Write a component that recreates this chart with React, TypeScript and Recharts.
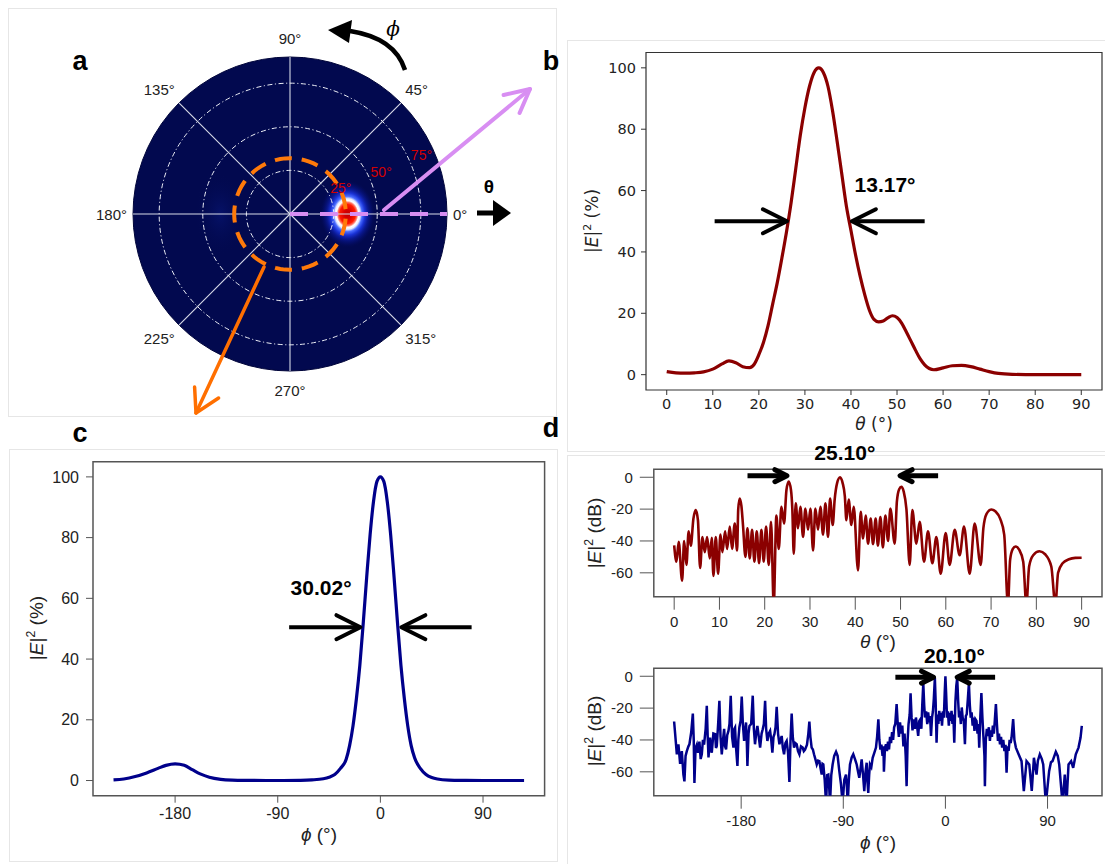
import React from 'react';
import {
  LineChart, Line, XAxis, YAxis, ReferenceArea, ReferenceLine, ReferenceDot,
  RadarChart, Radar, PolarGrid, PolarAngleAxis, PolarRadiusAxis,
  ScatterChart, Scatter,
} from 'recharts';

// ---------- panel a: far-field map (theta radial, phi angular) ----------
const PHI_STEPS = [
  0, 5, 10, 15, 20, 25, 30, 35, 40, 45, 50, 55, 60, 65, 70, 75, 80, 85, 90, 95, 100, 105, 110, 115,
  120, 125, 130, 135, 140, 145, 150, 155, 160, 165, 170, 175, 180, 185, 190, 195, 200, 205, 210, 215,
  220, 225, 230, 235, 240, 245, 250, 255, 260, 265, 270, 275, 280, 285, 290, 295, 300, 305, 310, 315,
  320, 325, 330, 335, 340, 345, 350, 355,
];
const RIM_THETA = 90;
const RING_THETA = 32;
const GRID_THETA = [25, 50, 75];
const SPOKES = [0, 45, 90, 135, 180, 225, 270, 315];
const SPOT_THETA = [33, 40];
const SPOT_PHI = [0, 180];
const SPOT_LEVEL = [100, 6];

// ---------- panel b: theta cut, linear ----------
const B_THETA = [0, 2, 4, 6, 8, 10, 12, 13.5, 15, 16.5, 18, 19, 20,
  21, 22, 23, 24, 25, 26, 27, 28, 29, 30, 31, 32, 33, 34, 35, 36, 37, 38, 39, 40,
  41, 42, 43, 44, 45, 46, 47, 48, 49, 50, 51, 52, 53, 54, 55, 56, 57, 58,
  60, 62, 64, 66, 68, 70, 72, 75, 80, 85, 90];
const B_E2 = [1.0, 0.6, 0.5, 0.6, 0.9, 1.8, 3.5, 4.5, 3.9, 2.6, 2.3, 3.4, 6.5,
  10.5, 16, 23, 30, 38, 46.5, 56, 67, 78, 87, 94, 98.5, 100, 98.5, 94, 86, 76, 65.5, 55, 47,
  39, 32, 26, 21, 18, 17.2, 17.5, 18.5, 19.2, 18.6, 16.8, 14, 11, 8, 5.2, 3.2, 2, 1.6,
  2.2, 2.9, 3, 2.6, 1.8, 1, 0.4, 0.1, 0, 0, 0];
const B_XTICKS = [0, 10, 20, 30, 40, 50, 60, 70, 80, 90];
const B_YTICKS = [0, 20, 40, 60, 80, 100];

// ---------- panel c: phi cut, linear ----------
const C_PHI = [-234, -225, -215, -205, -195, -188, -180, -172, -165, -158, -150, -140, -130,
  -115, -100, -85, -70, -60, -50, -45, -40, -35, -30,
  -27, -24, -21, -18, -15, -12, -9, -6, -3, 0,
  3, 6, 9, 12, 15, 18, 21, 24, 27, 30,
  35, 40, 45, 50, 60, 75, 90, 105, 126];
const C_E2 = [0.2, 0.5, 1.3, 2.5, 4, 5, 5.5, 5, 3.6, 2.2, 1.1, 0.4, 0.15,
  0.05, 0, 0, 0.05, 0.2, 0.6, 1.1, 2, 4, 7,
  11.5, 18, 27, 38, 52, 67, 81, 92, 98.5, 100,
  98.5, 92, 81, 67, 52, 38, 27, 18, 11.5, 7.5,
  4, 2, 1, 0.5, 0.15, 0.05, 0, 0, 0];
const C_XTICKS = [-180, -90, 0, 90];
const C_YTICKS = [0, 20, 40, 60, 80, 100];

// ---------- panel d: cuts in dB ----------
const D_THETA_CUT: [number, number][] = [
  [0, -42.7], [0.5, -53], [1.0, -40.6], [1.75, -65], [2.2, -40], [2.7, -55], [3.2, -34], [3.67, -43],
  [4.25, -26], [4.77, -20.6], [5.25, -27], [5.73, -57], [6.24, -37.5], [6.76, -47], [7.27, -37.5],
  [7.86, -51], [8.3, -38], [8.67, -62], [9.19, -37.5], [9.7, -60.6], [10.22, -36], [10.66, -47],
  [11.25, -34], [11.69, -45], [12.28, -31], [12.79, -45], [13.38, -29], [13.9, -46], [14.15, -20],
  [14.48, -13.3], [14.85, -18], [15.2, -30], [15.74, -50], [16.18, -32], [16.69, -51], [17.21, -33],
  [17.72, -53], [18.24, -34], [18.75, -54], [19.27, -33], [19.78, -53], [20.3, -31], [20.89, -55],
  [21.4, -28], [21.99, -80], [22.58, -24], [23.1, -45], [23.69, -18.5], [24.27, -29], [24.8, -8],
  [25.3, -2.7], [25.8, -8], [26.1, -20], [26.41, -48], [26.85, -16.4], [27.36, -32], [27.88, -18.5],
  [28.47, -37.5], [28.98, -19.6], [29.57, -33], [30.09, -19.6], [30.68, -46], [31.19, -19.6],
  [31.78, -33], [32.3, -18.5], [32.88, -36], [33.4, -16.4], [33.99, -37.5], [34.43, -13.3],
  [35.02, -30], [35.45, -14], [36.0, -3.5], [36.64, 0], [37.2, -3.5], [37.7, -12], [38.04, -27],
  [38.55, -14], [39.14, -30], [39.66, -18.5], [40.61, -58.5], [41.2, -21.7], [41.72, -38.5],
  [42.3, -24], [42.82, -41.7], [43.41, -26], [43.92, -42], [44.5, -26], [45.0, -43], [45.55, -25],
  [46.1, -44], [46.65, -24], [47.24, -40], [47.75, -19.6], [48.71, -41.7], [49.2, -15], [49.7, -7.5],
  [50.18, -6], [50.7, -9], [51.3, -20], [52.02, -55], [52.61, -20.6], [53.49, -41.7], [54.23, -28],
  [55.19, -53], [56.07, -34], [57.03, -54], [57.91, -37.5], [58.87, -60.6], [59.97, -35],
  [60.85, -55], [61.96, -33], [63.06, -49], [64.02, -31], [65.27, -60.6], [66.37, -29], [67.7, -55],
  [68.3, -32], [69.0, -23], [70.05, -20.2], [71.0, -21.5], [72.0, -26], [72.9, -36], [73.73, -80],
  [74.2, -52], [74.8, -45], [75.4, -43.5], [76.2, -45.5], [77.1, -53], [77.8, -80], [78.4, -56],
  [79.3, -49], [80.7, -46.5], [82.0, -48.5], [83.3, -56], [84.2, -80], [84.8, -60], [85.8, -54],
  [87.2, -51.5], [88.6, -50.6], [90, -50.5],
];

const D_PHI_CUT: [number, number][] = [
  [-239.1, -28.4], [-238.2, -36], [-236.7, -49], [-235.3, -42.7], [-233.8, -55], [-232.3, -47],
  [-230.9, -61.7], [-230.0, -66], [-229, -50], [-227.9, -47], [-226.5, -44], [-225.6, -42.7],
  [-224, -35], [-222.6, -23.4], [-221.8, -40], [-221.2, -67], [-220.2, -45], [-219.1, -43],
  [-218, -48], [-216.8, -41], [-215.7, -52], [-214.7, -49], [-213.7, -40], [-212.7, -43],
  [-211.3, -33], [-210.3, -18.5], [-209.5, -38], [-208.8, -51], [-207.4, -38.5], [-206.5, -46],
  [-205.9, -48], [-204.5, -36], [-203.0, -36.4], [-202.2, -45], [-201.5, -43.8], [-200.3, -30],
  [-199.2, -15.4], [-198.2, -38], [-197.1, -49], [-196, -40], [-195.0, -33], [-194.2, -44],
  [-193.3, -45.9], [-192.3, -37], [-191.2, -34.3], [-190.3, -30], [-189.2, -12.2], [-188, -38],
  [-186.8, -44.8], [-186, -33], [-185.4, -32.2], [-184.5, -45], [-183.3, -56.3], [-182.5, -40],
  [-181.6, -32.2], [-180.5, -28], [-179.5, -12.8], [-178.5, -30], [-177.4, -40.6], [-176.5, -34],
  [-175.7, -29], [-175, -42], [-174.5, -56.3], [-173.5, -36], [-172.7, -31.2], [-171.2, -30],
  [-169.8, -12.2], [-168.8, -33], [-167.8, -42.7], [-166.8, -36], [-165.7, -31.2], [-164.5, -38],
  [-163.3, -44.8], [-162, -36], [-161.0, -33.3], [-160, -30], [-158.9, -15.4], [-158, -33],
  [-156.9, -40.6], [-155.7, -36], [-154.5, -34.3], [-153.5, -40], [-152.5, -48], [-151.5, -38],
  [-150.7, -36.4], [-149.7, -32], [-148.7, -19.2], [-147.5, -36], [-146.3, -42.7], [-145.3, -40],
  [-144.3, -37.5], [-143.3, -45], [-142.2, -49], [-141, -42], [-139.9, -40.6], [-138.7, -48],
  [-137.5, -66.3], [-136.5, -40], [-135.5, -23.4], [-134.5, -38], [-133.4, -44.8], [-132.2, -42],
  [-131.1, -42.7], [-129.9, -47], [-128.7, -49], [-127.3, -44], [-125.8, -44.8], [-124.8, -47],
  [-123.7, -46], [-122, -43], [-120.8, -36], [-119.9, -28.4], [-119, -38], [-117.9, -44.8],
  [-116.8, -46], [-115.8, -49], [-114.6, -52], [-113.4, -55.4], [-112.2, -53], [-111.1, -53.3],
  [-110, -58], [-109.0, -61.7], [-108.3, -55], [-107.6, -55.4], [-106.4, -65], [-105.2, -80],
  [-104.2, -62], [-103.2, -61.7], [-102.4, -70], [-101.7, -80], [-100.6, -62], [-99.4, -55.4],
  [-98, -50], [-96.4, -47.4], [-95, -50], [-93.5, -59.6], [-92, -68], [-90.6, -80], [-89.1, -65],
  [-87.6, -61.7], [-86.8, -70], [-86.1, -80], [-85.1, -65], [-84.1, -55.4], [-82.6, -51],
  [-81.2, -49], [-79.7, -52], [-78.2, -55.4], [-77, -60], [-75.9, -63.8], [-74.8, -58],
  [-73.8, -52.2], [-72.6, -62], [-71.5, -72.2], [-70.4, -60], [-69.4, -54.3], [-68.7, -66],
  [-68.0, -73.3], [-67.2, -62], [-66.5, -55.4], [-65.3, -57], [-64.1, -51.2], [-62.6, -48],
  [-61.2, -44.8], [-60.2, -38], [-59.1, -27],
  [-58.2, -40], [-57.3, -46], [-56.4, -43], [-55.4, -50], [-54.6, -44], [-54.2, -60], [-53.3, -45],
  [-52.4, -42.7], [-51.5, -47], [-50.6, -41], [-49.7, -46], [-48.8, -38], [-47.9, -42], [-47, -35],
  [-46.1, -40], [-45.2, -32], [-44.2, -30], [-43, -17.5],
  [-42, -30], [-41, -38], [-40, -29], [-39, -36], [-38, -31], [-37, -44], [-36, -36], [-35, -50],
  [-34.2, -69], [-33.3, -40], [-32.5, -30], [-31.5, -24], [-30.7, -10.7],
  [-29.8, -26], [-29, -34], [-28, -27], [-27, -33], [-26, -25.9], [-25, -31], [-24, -37.5],
  [-23, -28], [-22, -26.9], [-21.2, -33], [-20.4, -18], [-19.5, -4.4],
  [-18.7, -18], [-18, -25.9], [-17, -22], [-16, -30], [-15.2, -22.7], [-14.3, -29], [-13.5, -25],
  [-12.7, -37.5], [-11.8, -26], [-11, -22], [-10.2, -14], [-9.3, -1],
  [-8.6, -16], [-7.8, -41.7], [-7, -24], [-6.2, -30], [-5.4, -21.7], [-4.6, -28], [-3.8, -23],
  [-3, -31], [-2.2, -22], [-1.4, -26], [-0.6, -10], [0, 0],
  [0.6, -10], [1.4, -26], [2.2, -22], [3, -31], [3.8, -23], [4.6, -28], [5.4, -21.7], [6.2, -30],
  [7, -24], [7.8, -41.7], [8.8, -16], [9.6, -6], [10.4, -1],
  [11.2, -15], [12, -25.9], [12.8, -22], [13.6, -30], [14.4, -19.6], [15.2, -26], [16.2, -28],
  [17.2, -42.7], [18, -25], [18.8, -23.8], [19.8, -14], [20.7, -4.4],
  [21.5, -18], [22.3, -26], [23.1, -22.7], [24, -31], [24.8, -26], [25.6, -34.3], [26.5, -27],
  [27.4, -28], [28.3, -36], [29.1, -30], [29.8, -44.8], [30.8, -25], [31.7, -10.5],
  [32.6, -26], [33.5, -38], [34.4, -50], [34.8, -69], [35.6, -40], [36.5, -33], [37.4, -37.5],
  [38.3, -32], [39.2, -40.6], [40.1, -34], [41, -38], [41.8, -31], [42.7, -36], [43.6, -27],
  [44.5, -17.5],
  [45.4, -30], [46.3, -40.6], [47.2, -36], [48.1, -42.7], [49, -38], [50, -44.8], [51, -40],
  [52, -47], [53, -43], [53.9, -60.6], [54.8, -44], [55.7, -46.9], [56.6, -40], [57.5, -42],
  [58.3, -38.5], [59.7, -26.9],
  [60.8, -40], [62.1, -44.8], [64.5, -49], [67.1, -53.3], [69.1, -72.2], [71.5, -53.3],
  [73.9, -55.4], [76.1, -72], [78.0, -51.2], [80.3, -61.7], [81.5, -53], [83.2, -49], [85, -52],
  [86.2, -55.4], [88.5, -80], [91.4, -59.6], [93, -54], [94.4, -53.3], [97.3, -47.4], [99, -50],
  [100.3, -55.4], [103.2, -80], [105.2, -61.7], [106.7, -80], [108.5, -55.4], [110.8, -53.3],
  [112.6, -57.5], [114.9, -49], [117.3, -44.8], [119.1, -38.5], [120.2, -31.2],
];
const D_THETA_TICKS = [0, 10, 20, 30, 40, 50, 60, 70, 80, 90];
const D_PHI_TICKS = [-180, -90, 0, 90];
const D_YTICKS = [-60, -40, -20, 0];

const SANS = 'Liberation Sans, Arial, sans-serif';
const DEJAVU = 'DejaVu Sans, sans-serif';
const NAVY = '#02094f';
const DARKRED = '#8b0000';
const DARKBLUE = '#00008b';
const POLAR_SIZE = 420;
const POLAR_R = 157;

const arrowShape = (w: number, len: number, half: number) => (p: any) => {
  const { x1, y1, x2, y2 } = p;
  if (x1 == null) return <g />;
  const a = Math.atan2(y2 - y1, x2 - x1);
  const c = Math.cos(a), s = Math.sin(a);
  const bx = x2 - len * c, by = y2 - len * s;
  return (
    <g>
      <line x1={x1} y1={y1} x2={x2 - c * w * 0.6} y2={y2 - s * w * 0.6} stroke="#000" strokeWidth={w} />
      <polyline
        points={`${bx - half * s},${by + half * c} ${x2},${y2} ${bx + half * s},${by - half * c}`}
        fill="none" stroke="#000" strokeWidth={w} strokeLinejoin="round" strokeLinecap="round"
      />
    </g>
  );
};

const boldText = (label: string) => (p: any) => (
  <text x={p.cx} y={p.cy} textAnchor="middle" dominantBaseline="central"
    fontFamily={SANS} fontWeight="bold" fontSize={21} fill="#000">{label}</text>
);

function YLabel({ x, y, size, family, unit }: any) {
  return (
    <text transform={`translate(${x},${y}) rotate(-90)`} textAnchor="middle" fontFamily={family}
      fontSize={size} fill="#222">
      |<tspan fontStyle="italic">E</tspan>|<tspan dy={-size * 0.4} fontSize={size * 0.65}>2</tspan>
      <tspan dy={size * 0.4}> ({unit})</tspan>
    </text>
  );
}

function XLabel({ x, y, size, family, sym }: any) {
  return (
    <text x={x} y={y} textAnchor="middle" fontFamily={family} fontSize={size} fill="#222">
      <tspan fontStyle="italic">{sym}</tspan> (°)
    </text>
  );
}

// labels of the phi directions, placed just outside the rim
const AngleTick = (p: any) => {
  const v = Number(p.payload?.value);
  if (v % 45 !== 0) return <g />;
  const a = (v * Math.PI) / 180;
  const c = Math.cos(a), s = Math.sin(a);
  const anchor = c > 0.01 ? 'start' : c < -0.01 ? 'end' : 'middle';
  const mid = POLAR_SIZE / 2;
  return (
    <text x={mid + c * (POLAR_R + 6)} y={mid - s * (POLAR_R + 19)} textAnchor={anchor}
      dominantBaseline="central" fontSize={15} fontFamily={SANS} fill="#222">{v}°</text>
  );
};

const RadiusTick = (p: any) => (
  <text x={p.x} y={p.y - 9} textAnchor="start" dominantBaseline="central"
    fontSize={14} fontFamily={SANS} fill="#d40000">{p.payload?.value}°</text>
);

const SpotShape = (p: any) => {
  const { cx, cy, payload } = p;
  if (cx == null) return <g />;
  const id = `spot-${payload.k}`;
  if (payload.level > 50) {
    return (
      <g>
        <defs>
          <radialGradient id={id}>
            <stop offset="0%" stopColor="#c00000" />
            <stop offset="12%" stopColor="#d80000" />
            <stop offset="28%" stopColor="#ff1a00" />
            <stop offset="34%" stopColor="#ff7060" />
            <stop offset="39%" stopColor="#ffffff" />
            <stop offset="45%" stopColor="#e6ecff" />
            <stop offset="52%" stopColor="#4a6cff" />
            <stop offset="62%" stopColor="#1a33d6" />
            <stop offset="74%" stopColor="#0c1ca0" stopOpacity={0.8} />
            <stop offset="88%" stopColor="#06117a" stopOpacity={0.4} />
            <stop offset="100%" stopColor={NAVY} stopOpacity={0} />
          </radialGradient>
        </defs>
        <ellipse cx={cx} cy={cy} rx={28} ry={34} fill={`url(#${id})`} />
      </g>
    );
  }
  return (
    <g>
      <defs>
        <radialGradient id={id}>
          <stop offset="0%" stopColor="#1430c0" stopOpacity={0.22} />
          <stop offset="100%" stopColor={NAVY} stopOpacity={0} />
        </radialGradient>
      </defs>
      <ellipse cx={cx} cy={cy} rx={26} ry={42} fill={`url(#${id})`} />
    </g>
  );
};

function PolarPanel() {
  const rows = PHI_STEPS.map((phi) => ({ phi, rim: RIM_THETA, ring: RING_THETA }));
  const spots = SPOT_THETA.map((t, k) => ({
    k,
    x: t * Math.cos((SPOT_PHI[k] * Math.PI) / 180),
    y: t * Math.sin((SPOT_PHI[k] * Math.PI) / 180),
    level: SPOT_LEVEL[k],
  }));
  const big = { position: 'absolute' as const, left: 79.5, top: 3.5 };
  const sq = { position: 'absolute' as const, left: 132.5, top: 56.5 };
  return (
    <>
      <div style={big}>
        <RadarChart width={POLAR_SIZE} height={POLAR_SIZE} cx={POLAR_SIZE / 2} cy={POLAR_SIZE / 2}
          outerRadius={POLAR_R} startAngle={0} endAngle={360}
          data={rows} margin={{ top: 0, right: 0, bottom: 0, left: 0 }}>
          <PolarAngleAxis dataKey="phi" tick={false} tickLine={false} axisLine={false} />
          <PolarRadiusAxis type="number" domain={[0, RIM_THETA]} tick={false} axisLine={false} />
          <Radar dataKey="rim" fill={NAVY} fillOpacity={1} stroke="#01053a" strokeWidth={1} dot={false}
            isAnimationActive={false} />
        </RadarChart>
      </div>
      <div style={sq}>
        <ScatterChart width={314} height={314} margin={{ top: 0, right: 0, bottom: 0, left: 0 }}>
          <XAxis type="number" dataKey="x" domain={[-RIM_THETA, RIM_THETA]} hide allowDataOverflow />
          <YAxis type="number" dataKey="y" domain={[-RIM_THETA, RIM_THETA]} hide allowDataOverflow />
          <Scatter data={spots} shape={SpotShape} isAnimationActive={false} />
        </ScatterChart>
      </div>
      <div style={big}>
        <RadarChart width={POLAR_SIZE} height={POLAR_SIZE} cx={POLAR_SIZE / 2} cy={POLAR_SIZE / 2}
          outerRadius={POLAR_R} startAngle={0} endAngle={360}
          data={rows} margin={{ top: 0, right: 0, bottom: 0, left: 0 }}>
          <PolarGrid gridType="circle" polarAngles={SPOKES} polarRadius={[0]} stroke="#d8dbe8" strokeWidth={1.1} />
          <PolarGrid gridType="circle" radialLines={false} stroke="#eceef6" strokeWidth={1}
            strokeDasharray="5 2.5 1.2 2.5" />
          <PolarAngleAxis dataKey="phi" tick={AngleTick} tickLine={false} axisLine={false} />
          <PolarRadiusAxis type="number" angle={22.5} domain={[0, RIM_THETA]} ticks={GRID_THETA}
            tick={RadiusTick} axisLine={false} tickLine={false} />
          <Radar dataKey="ring" fill="none" fillOpacity={0} stroke="#ff7a0a" strokeWidth={4}
            strokeDasharray="17 10" dot={false} isAnimationActive={false} />
        </RadarChart>
      </div>
      <div style={sq}>
        <ScatterChart width={314} height={314} margin={{ top: 0, right: 0, bottom: 0, left: 0 }}>
          <XAxis type="number" dataKey="x" domain={[-RIM_THETA, RIM_THETA]} hide allowDataOverflow />
          <YAxis type="number" dataKey="y" domain={[-RIM_THETA, RIM_THETA]} hide allowDataOverflow />
          <Scatter data={[]} isAnimationActive={false} />
          <ReferenceLine segment={[{ x: 0, y: 0 }, { x: RIM_THETA, y: 0 }]} stroke="#d88ef2"
            strokeWidth={4} strokeDasharray="18 12" ifOverflow="visible" />
        </ScatterChart>
      </div>
    </>
  );
}

function PanelB() {
  const data = B_THETA.map((x, i) => ({ x, y: B_E2[i] }));
  const tick = { fill: '#222', fontSize: 14.5, fontFamily: DEJAVU };
  return (
    <LineChart width={545} height={420} data={data} margin={{ top: 22.5, right: 3, bottom: 30, left: 26 }}>
      <XAxis type="number" dataKey="x" domain={[-4.5, 94.5]} ticks={B_XTICKS} interval={0} height={30}
        tickSize={5} tickMargin={4} axisLine={false} tickLine={{ stroke: '#333' }} tick={tick} allowDataOverflow />
      <YAxis type="number" domain={[-5, 105]} ticks={B_YTICKS} interval={0} width={60}
        tickSize={5} tickMargin={5} axisLine={false} tickLine={{ stroke: '#333' }} tick={tick} allowDataOverflow />
      <ReferenceArea x1={-4.5} x2={94.5} y1={-5} y2={105} fill="none" stroke="#333" strokeWidth={1.2}
        ifOverflow="visible" />
      <Line dataKey="y" type="monotone" stroke={DARKRED} strokeWidth={3.2} dot={false} isAnimationActive={false} />
      <ReferenceLine segment={[{ x: 10.4, y: 50 }, { x: 26.1, y: 50 }]} shape={arrowShape(4, 24, 12)} ifOverflow="visible" />
      <ReferenceLine segment={[{ x: 56, y: 50 }, { x: 40.2, y: 50 }]} shape={arrowShape(4, 24, 12)} ifOverflow="visible" />
      <ReferenceDot x={47.4} y={62} ifOverflow="visible" shape={boldText('13.17°')} />
    </LineChart>
  );
}

function PanelC() {
  const data = C_PHI.map((x, i) => ({ x, y: C_E2[i] }));
  const tick = { fill: '#222', fontSize: 16, fontFamily: SANS };
  return (
    <LineChart width={560} height={434} data={data} margin={{ top: 31.7, right: 15.4, bottom: 38.3, left: 33 }}>
      <XAxis type="number" dataKey="x" domain={[-252, 144]} ticks={C_XTICKS} interval={0} height={30}
        tickSize={7} tickMargin={5} axisLine={false} tickLine={{ stroke: '#555' }} tick={tick} allowDataOverflow />
      <YAxis type="number" domain={[-5, 105]} ticks={C_YTICKS} interval={0} width={60}
        tickSize={7} tickMargin={7} axisLine={false} tickLine={{ stroke: '#555' }} tick={tick} allowDataOverflow />
      <ReferenceArea x1={-252} x2={144} y1={-5} y2={105} fill="none" stroke="#555" strokeWidth={1.5}
        ifOverflow="visible" />
      <Line dataKey="y" type="monotone" stroke={DARKBLUE} strokeWidth={3.2} dot={false} isAnimationActive={false} />
      <ReferenceLine segment={[{ x: -80, y: 50.5 }, { x: -17.5, y: 50.5 }]} shape={arrowShape(4, 24, 12)} ifOverflow="visible" />
      <ReferenceLine segment={[{ x: 80, y: 50.5 }, { x: 18.4, y: 50.5 }]} shape={arrowShape(4, 24, 12)} ifOverflow="visible" />
      <ReferenceDot x={-52} y={63.7} ifOverflow="visible" shape={boldText('30.02°')} />
    </LineChart>
  );
}

function PanelDTheta() {
  const data = D_THETA_CUT.map(([x, y]) => ({ x, y }));
  const tick = { fill: '#222', fontSize: 15, fontFamily: SANS };
  return (
    <LineChart width={545} height={220} data={data} margin={{ top: 34.3, right: 3, bottom: 28.3, left: 33.8 }}>
      <XAxis type="number" dataKey="x" domain={[-4.5, 94.5]} ticks={D_THETA_TICKS} interval={0} height={30}
        tickSize={13} tickMargin={7} axisLine={false} tickLine={{ stroke: '#555' }} tick={tick} allowDataOverflow />
      <YAxis type="number" domain={[-75, 5]} ticks={D_YTICKS} interval={0} width={60}
        tickSize={14} tickMargin={7} axisLine={false} tickLine={{ stroke: '#555' }} tick={tick} allowDataOverflow />
      <ReferenceArea x1={-4.5} x2={94.5} y1={-75} y2={5} fill="none" stroke="#555" strokeWidth={1.5}
        ifOverflow="visible" />
      <Line dataKey="y" type="monotone" stroke={DARKRED} strokeWidth={2.6} dot={false} isAnimationActive={false} />
      <ReferenceLine segment={[{ x: 16.2, y: 1 }, { x: 24.9, y: 1 }]} shape={arrowShape(5, 12, 6)} ifOverflow="visible" />
      <ReferenceLine segment={[{ x: 58.3, y: 1 }, { x: 49.9, y: 1 }]} shape={arrowShape(5, 12, 6)} ifOverflow="visible" />
      <ReferenceDot x={37.7} y={15.3} ifOverflow="visible" shape={boldText('25.10°')} />
    </LineChart>
  );
}

function PanelDPhi() {
  const data = D_PHI_CUT.map(([x, y]) => ({ x, y }));
  const tick = { fill: '#222', fontSize: 15, fontFamily: SANS };
  return (
    <LineChart width={545} height={225} data={data} margin={{ top: 33.3, right: 3, bottom: 34.3, left: 33.8 }}>
      <XAxis type="number" dataKey="x" domain={[-257, 138]} ticks={D_PHI_TICKS} interval={0} height={30}
        tickSize={13} tickMargin={7} axisLine={false} tickLine={{ stroke: '#555' }} tick={tick} allowDataOverflow />
      <YAxis type="number" domain={[-75, 5]} ticks={D_YTICKS} interval={0} width={60}
        tickSize={14} tickMargin={7} axisLine={false} tickLine={{ stroke: '#555' }} tick={tick} allowDataOverflow />
      <ReferenceArea x1={-257} x2={138} y1={-75} y2={5} fill="none" stroke="#555" strokeWidth={1.5}
        ifOverflow="visible" />
      <Line dataKey="y" type="linear" stroke={DARKBLUE} strokeWidth={2.5} dot={false} isAnimationActive={false} />
      <ReferenceLine segment={[{ x: -44.1, y: -0.6 }, { x: -10.5, y: -0.6 }]} shape={arrowShape(5, 12, 6)} ifOverflow="visible" />
      <ReferenceLine segment={[{ x: 43.8, y: -0.6 }, { x: 10.4, y: -0.6 }]} shape={arrowShape(5, 12, 6)} ifOverflow="visible" />
      <ReferenceDot x={7.9} y={12.9} ifOverflow="visible" shape={boldText('20.10°')} />
    </LineChart>
  );
}

const frame = (left: number, top: number, width: number, height: number) => (
  <div style={{ position: 'absolute', left, top, width, height, border: '1px solid #e6e6e6' }} />
);

export default function App() {
  return (
    <div style={{ position: 'absolute', left: 0, top: 0, width: 1105, height: 864, overflow: 'hidden',
      background: '#fff', fontFamily: SANS }}>
      {frame(8, 8, 547, 407)}
      {frame(567, 40, 545, 410)}
      {frame(9, 449, 547, 411)}
      {frame(567, 455, 545, 420)}
      <div style={{ position: 'absolute', left: 560, top: 30 }}><PanelB /></div>
      <div style={{ position: 'absolute', left: 0, top: 430 }}><PanelC /></div>
      <div style={{ position: 'absolute', left: 560, top: 435 }}><PanelDTheta /></div>
      <div style={{ position: 'absolute', left: 560, top: 635 }}><PanelDPhi /></div>
      <PolarPanel />
      <svg width={1105} height={864} style={{ position: 'absolute', left: 0, top: 0, pointerEvents: 'none' }}>
        {/* panel letters */}
        <text x={80} y={70} textAnchor="middle" fontFamily={SANS} fontWeight="bold" fontSize={27}>a</text>
        <text x={551} y={70} textAnchor="middle" fontFamily={SANS} fontWeight="bold" fontSize={27}>b</text>
        <text x={80} y={442} textAnchor="middle" fontFamily={SANS} fontWeight="bold" fontSize={27}>c</text>
        <text x={551} y={437} textAnchor="middle" fontFamily={SANS} fontWeight="bold" fontSize={27}>d</text>
        {/* axis titles */}
        <YLabel x={598} y={221} size={17} family={DEJAVU} unit="%" />
        <XLabel x={874} y={430} size={17} family={DEJAVU} sym="θ" />
        <YLabel x={43} y={628} size={19} family={SANS} unit="%" />
        <XLabel x={319} y={841} size={19} family={SANS} sym="ϕ" />
        <YLabel x={601} y={533} size={19} family={SANS} unit="dB" />
        <XLabel x={878} y={648} size={19} family={SANS} sym="θ" />
        <YLabel x={601} y={731} size={19} family={SANS} unit="dB" />
        <XLabel x={878} y={849} size={19} family={SANS} sym="ϕ" />
        {/* phi rotation arrow */}
        <path d="M 405 70 Q 395 38 350 31" fill="none" stroke="#000" strokeWidth={4.5} />
        <polygon points="328,30 352,20 349,43" fill="#000" />
        <text x={393} y={36} textAnchor="middle" fontFamily="DejaVu Serif" fontStyle="italic" fontSize={20}>ϕ</text>
        {/* theta direction arrow */}
        <text x={489} y={193} textAnchor="middle" fontFamily={SANS} fontWeight="bold" fontSize={19}>θ</text>
        <line x1={477} y1={213} x2={495} y2={213} stroke="#000" strokeWidth={5} />
        <polygon points="493,200 511,213 493,226" fill="#000" />
        {/* cut arrows */}
        <line x1={384} y1={210} x2={530} y2={89} stroke="#d88ef2" strokeWidth={4} strokeLinecap="round" />
        <polyline points="503.6,95 530,89 519.6,113" fill="none" stroke="#d88ef2" strokeWidth={4}
          strokeLinecap="round" strokeLinejoin="round" />
        <line x1={264} y1={267} x2={196} y2={413} stroke="#ff6f00" strokeWidth={3.5} strokeLinecap="round" />
        <polyline points="194.6,387 196,413 218.6,398" fill="none" stroke="#ff6f00" strokeWidth={3.5}
          strokeLinecap="round" strokeLinejoin="round" />
      </svg>
    </div>
  );
}
